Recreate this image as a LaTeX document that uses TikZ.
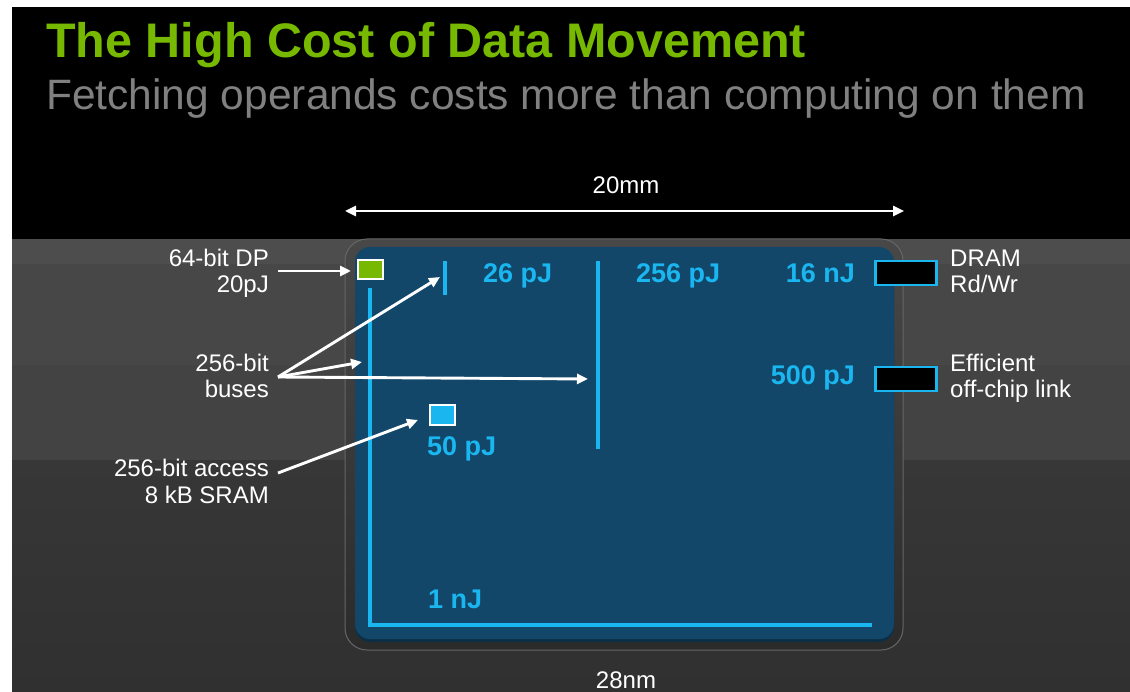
\documentclass[tikz,border=0pt]{standalone}
\usepackage{fontspec}
\setmainfont{Liberation Sans}
\usetikzlibrary{arrows.meta}
\definecolor{nvgreen}{HTML}{76B900}
\definecolor{subgray}{HTML}{808080}
\definecolor{chipblue}{HTML}{12476A}
\definecolor{chipshadow}{HTML}{0C2F46}
\definecolor{wire}{HTML}{1AB6EF}
\definecolor{bandA}{HTML}{4D4D4D}
\definecolor{bandB}{HTML}{474747}
\definecolor{bandC}{HTML}{434343}
\definecolor{bandD}{HTML}{373737}
\definecolor{bandE}{HTML}{303030}
\definecolor{bezeltop}{HTML}{484848}
\definecolor{bezelbot}{HTML}{2B2B2B}
\definecolor{bezeledge}{HTML}{666666}
\begin{document}
\begin{tikzpicture}[x=1pt,y=-1pt,
  lbl/.style={text=white,inner sep=0pt,font=\fontsize{24}{26.5}\selectfont},
  cost/.style={text=wire,inner sep=0pt,font=\bfseries\fontsize{27}{30}\selectfont},
  bus/.style={draw=white,line width=2.9pt,-{Triangle[length=11pt,width=10pt]}},
  wireline/.style={draw=wire,line width=3.4pt},
  port/.style={draw=wire,fill=black,line width=2.5pt,inner sep=0pt,anchor=north west,minimum width=61pt,minimum height=24pt},
  unit/.style={draw=white,line width=2pt,inner sep=0pt,anchor=north west}]
\useasboundingbox (0,0) rectangle (1130,692);
% page and slide background
\fill[white] (0,0) rectangle (1130,692);
\fill[black] (12,7) rectangle (1130,239);
\fill[bandA] (12,239) rectangle (1130,264);
\fill[bandB] (12,264) rectangle (1130,365);
\fill[bandC] (12,365) rectangle (1130,460);
\shade[top color=bandD,bottom color=bandE] (12,460) rectangle (1130,692);

% headings
\node[anchor=base west,inner sep=0pt,text=nvgreen,font=\bfseries\fontsize{48.5}{58}\selectfont] (title) at (46,58) {The High Cost of Data Movement};
\node[anchor=base west,inner sep=0pt,text=subgray,font=\fontsize{42.5}{50}\selectfont] (subtitle) at (46,110) {Fetching operands costs more than computing on them};

% die size
\node[lbl,anchor=base] (dieside) at (626,194) {20mm};
\coordinate (wl) at (345,211);
\coordinate (wr) at (904,211);
\draw[white,line width=2.6pt,{Triangle[length=11pt,width=10pt]}-{Triangle[length=11pt,width=10pt]}] (wl) -- (wr);

% package and die
\path[draw=bezeledge,line width=1pt,top color=bezeltop,bottom color=bezelbot,rounded corners=22pt] (345,239) rectangle (903,650);
\fill[chipshadow,rounded corners=15pt] (355,250) rectangle (894,642);
\fill[chipblue,rounded corners=15pt] (355,247) rectangle (894,639);

% on-chip wires
\draw[wireline] (370,288) |- (872,625);
\draw[wireline] (445,261) -- (445,295);
\draw[wireline] (598,261) -- (598,449);

% units and ports
\node[unit,fill=nvgreen,minimum width=25pt,minimum height=19pt] (dp) at (357,259) {};
\node[unit,fill=wire,minimum width=25pt,minimum height=20pt] (sram) at (429,404) {};
\node[port] (dram) at (874,260) {};
\node[port] (link) at (874,366) {};

% energy figures
\node[cost,anchor=base west] (c26) at (483,283) {26 pJ};
\node[cost,anchor=base west] (c256) at (636,283) {256 pJ};
\node[cost,anchor=base east] (c16) at (855,283) {16 nJ};
\node[cost,anchor=base east] (c500) at (855,385) {500 pJ};
\node[cost,anchor=base west] (c50) at (427,456) {50 pJ};
\node[cost,anchor=base west] (c1) at (428,608) {1 nJ};

% captions (base anchor sits on the last line)
\node[lbl,align=left,anchor=base west] (dramlbl) at (950,293) {DRAM\\Rd/Wr};
\node[lbl,align=left,anchor=base west] (linklbl) at (950,398) {Efficient\\off-chip link};
\node[lbl,align=right,anchor=base east] (dplbl) at (269,293) {64-bit DP\\20pJ};
\node[lbl,align=right,anchor=base east] (buslbl) at (269,398) {256-bit\\buses};
\node[lbl,align=right,anchor=base east] (sramlbl) at (269,503) {256-bit access\\8 kB SRAM};
\node[lbl,anchor=base] (process) at (626,688) {28nm};

% pointers
\coordinate (dpout) at (278,271);
\coordinate (busout) at (278,377);
\coordinate (sramout) at (278,473);
\coordinate (tipA) at (440,277);
\coordinate (tipB) at (362,362);
\coordinate (tipC) at (588,379);
\coordinate (tipD) at (418,420);
\draw[bus,shorten >=6pt] (dpout) -- (dp.west |- dpout);
\draw[bus] (busout) -- (tipA);
\draw[bus] (busout) -- (tipB);
\draw[bus] (busout) -- (tipC);
\draw[bus] (sramout) -- (tipD);
\end{tikzpicture}
\end{document}
